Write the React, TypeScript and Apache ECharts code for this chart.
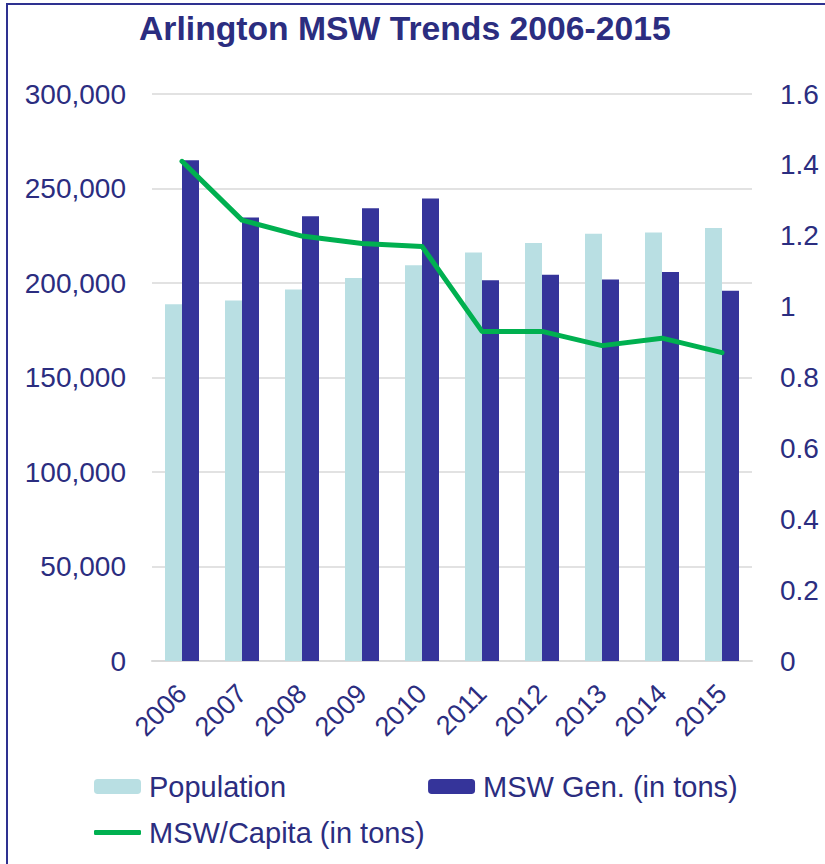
import React, { useEffect, useRef } from "react";
import * as echarts from "echarts";

const years = ["2006", "2007", "2008", "2009", "2010", "2011", "2012", "2013", "2014", "2015"];
const population = [188700, 190800, 196500, 202600, 209400, 216200, 221200, 226100, 226700, 229100];
const mswGen = [265000, 234600, 235300, 239600, 244700, 201400, 204400, 201900, 205800, 195900];
const mswPerCapita = [1.41, 1.244, 1.199, 1.178, 1.17, 0.93, 0.93, 0.89, 0.911, 0.87];

const TEXT = "#2b2d80";
const FONT = "'Liberation Sans', Arial, sans-serif";

export default function App() {
  const ref = useRef<HTMLDivElement>(null);
  useEffect(() => {
    if (!ref.current) return;
    const chart = echarts.init(ref.current, undefined, { renderer: "svg" });
    chart.setOption({
      animation: false,
      textStyle: { fontFamily: FONT },
      title: {
        text: "Arlington MSW Trends 2006-2015",
        left: 139,
        top: 11,
        padding: 0,
        textStyle: { fontSize: 33.7, fontWeight: "bold", color: TEXT, fontFamily: FONT },
      },
      graphic: [
        {
          type: "rect",
          shape: { x: 7, y: 4, width: 1000, height: 1000 },
          style: { fill: "none", stroke: "#2e3190", lineWidth: 2 },
          silent: true,
        },
      ],
      legend: [
        {
          data: ["Population", "MSW Gen. (in tons)"],
          left: 94,
          top: 772,
          padding: 0,
          itemWidth: 47,
          itemHeight: 15,
          itemGap: 142,
          textStyle: { fontSize: 29, color: TEXT, fontFamily: FONT, padding: [0, 0, 0, 3] },
        },
        {
          data: [{ name: "MSW/Capita (in tons)", icon: "roundRect" }],
          left: 94,
          top: 818,
          padding: 0,
          itemWidth: 47,
          itemHeight: 5,
          textStyle: { fontSize: 29, color: TEXT, fontFamily: FONT, padding: [0, 0, 0, 3] },
        },
      ],
      grid: { left: 152, right: 73, top: 94, bottom: 203 },
      xAxis: {
        type: "category",
        data: years,
        axisLine: { lineStyle: { color: "#d9d9d9", width: 2 } },
        axisTick: { show: false },
        axisLabel: { rotate: 45, fontSize: 27, color: TEXT, fontFamily: FONT, margin: 28 },
      },
      yAxis: [
        {
          type: "value",
          min: 0,
          max: 300000,
          interval: 50000,
          axisLine: { show: false },
          axisTick: { show: false },
          splitLine: { lineStyle: { color: "#d9d9d9", width: 1.5 } },
          axisLabel: {
            fontSize: 28,
            color: TEXT,
            fontFamily: FONT,
            margin: 26,
            formatter: (v: number) => v.toLocaleString("en-US"),
          },
        },
        {
          type: "value",
          min: 0,
          max: 1.6,
          interval: 0.2,
          axisLine: { show: false },
          axisTick: { show: false },
          splitLine: { show: false },
          axisLabel: { fontSize: 28, color: TEXT, fontFamily: FONT, margin: 28 },
        },
      ],
      series: [
        {
          name: "Population",
          type: "bar",
          data: population,
          barWidth: 17,
          barGap: "0%",
          itemStyle: { color: "#b9dfe3" },
        },
        {
          name: "MSW Gen. (in tons)",
          type: "bar",
          data: mswGen,
          barWidth: 17,
          barGap: "0%",
          itemStyle: { color: "#35349a" },
        },
        {
          name: "MSW/Capita (in tons)",
          type: "line",
          yAxisIndex: 1,
          data: mswPerCapita,
          symbol: "none",
          lineStyle: { color: "#00b050", width: 5, cap: "round", join: "round" },
          itemStyle: { color: "#00b050" },
        },
      ],
    });
    return () => chart.dispose();
  }, []);
  return (
    <div
      ref={ref}
      style={{ position: "fixed", left: 0, top: 0, width: 825, height: 864, background: "#fff" }}
    />
  );
}
